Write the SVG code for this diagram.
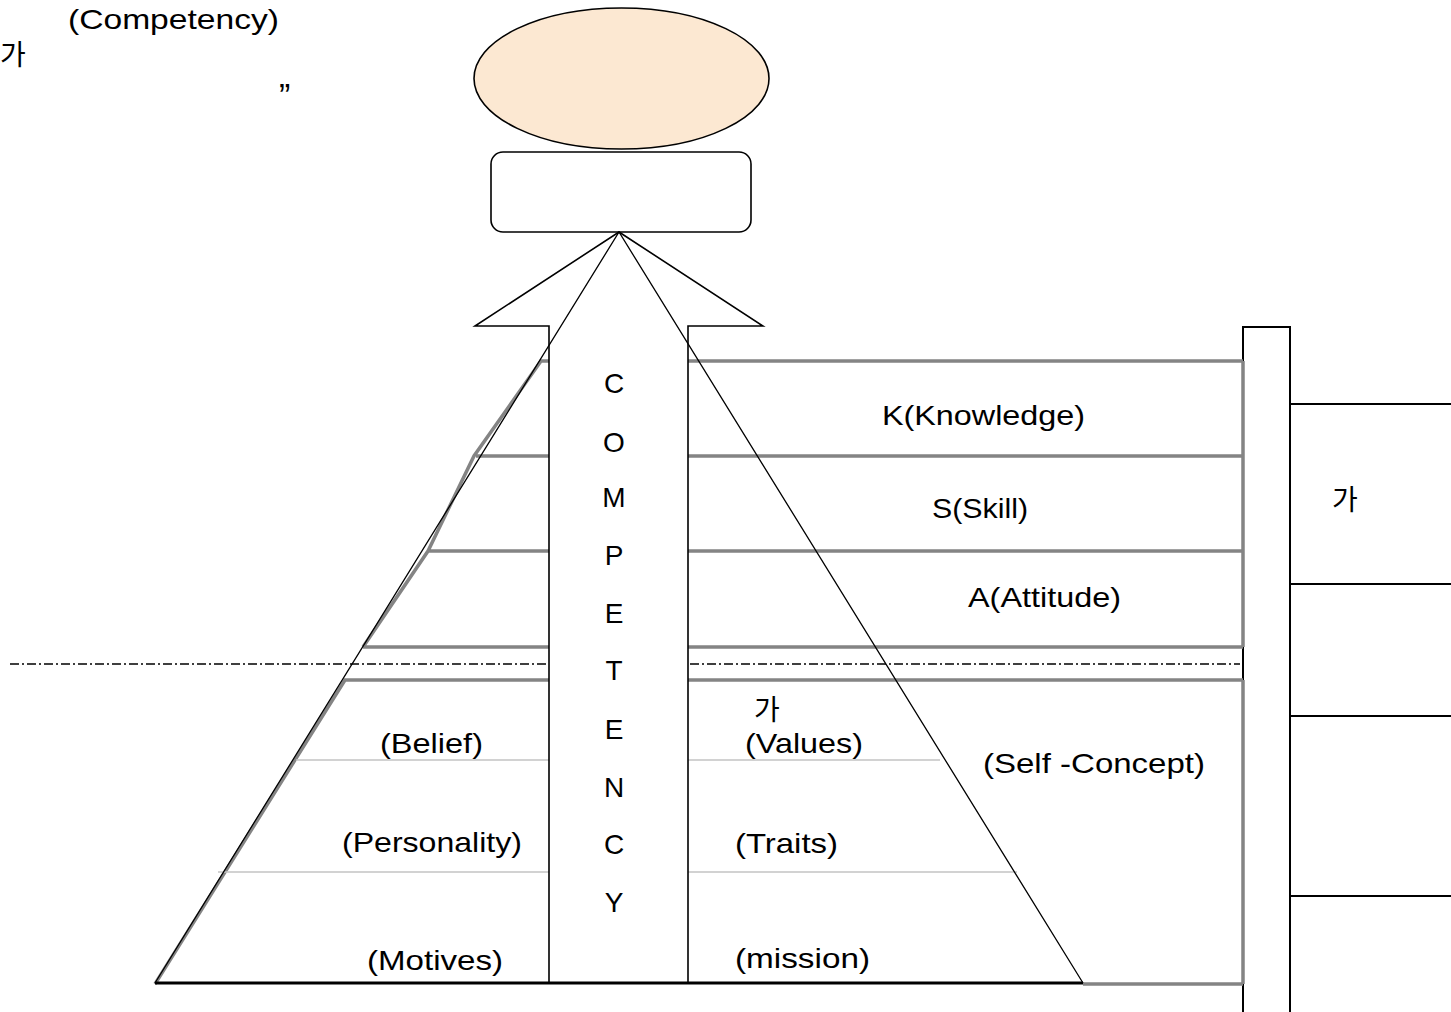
<svg xmlns="http://www.w3.org/2000/svg" width="1451" height="1012" viewBox="0 0 1451 1012">
<style>
text{font-family:"Liberation Sans","Noto Sans CJK KR",Arial,sans-serif;font-size:28px;fill:#000}
.k{font-family:"Noto Sans CJK KR","Liberation Sans",sans-serif;font-size:28px}
.g{stroke:#848484;stroke-width:3.5;fill:none}
.lg{stroke:#c4c4c4;stroke-width:1.6;fill:none}
.b{stroke:#000;fill:none}
</style>
<rect width="1451" height="1012" fill="#fff"/>
<g id="caption">
<text x="68" y="29" textLength="211" lengthAdjust="spacingAndGlyphs">(Competency)</text>
<text class="k" x="0" y="65">가</text>
<text x="279" y="107" style="font-size:34px">”</text>
</g>
<g id="side-bar">
<rect x="1243" y="327" width="47" height="700" fill="#fff" stroke="#000" stroke-width="2"/>
<path class="b" stroke-width="2" d="M1290 404H1451M1290 584H1451M1290 716H1451M1290 896H1451"/>
<text class="k" x="1332" y="510">가</text>
</g>
<g id="layers">
<path class="g" d="M688 361H1243M688 456H1243M688 551H1243M688 647H1243M688 680H1243M1243 361V647M1243 680V984M1083 984H1243"/>
<path class="g" d="M549 361H541L474 456L428 551L363 647M549 456H476M549 551H427M549 647H363M549 680H345L155 984"/>
<path class="lg" d="M296 760H549M688 760H940M218 872H549M688 872H1017"/>
</g>
<g id="waterline">
<path class="b" stroke-width="1.3" stroke-dasharray="9 3 2 3" d="M10 664H549M690 664H1240"/>
</g>
<g id="top-ellipse">
<ellipse cx="621.5" cy="78.5" rx="147.5" ry="70.5" fill="#fce8d2" stroke="#000" stroke-width="1.6"/>
</g>
<g id="top-box">
<rect x="491" y="152" width="260" height="80" rx="12" fill="#fff" stroke="#000" stroke-width="1.6"/>
</g>
<g id="connectors">
<polygon points="619,232 763,326 688,326 688,983 549,983 549,326 475,326" fill="#fff" stroke="#000" stroke-width="1.6"/>
<path class="b" stroke-width="1.3" d="M155 983L619 232L1083 983"/>
<path class="b" stroke-width="2.8" d="M155 983H1083"/>
</g>
<g id="competency">
<text x="614" y="393" text-anchor="middle">C</text>
<text x="614" y="452" text-anchor="middle">O</text>
<text x="614" y="507" text-anchor="middle">M</text>
<text x="614" y="565" text-anchor="middle">P</text>
<text x="614" y="623" text-anchor="middle">E</text>
<text x="614" y="680" text-anchor="middle">T</text>
<text x="614" y="739" text-anchor="middle">E</text>
<text x="614" y="797" text-anchor="middle">N</text>
<text x="614" y="854" text-anchor="middle">C</text>
<text x="614" y="912" text-anchor="middle">Y</text>
</g>
<g id="labels">
<text x="882" y="425" textLength="203" lengthAdjust="spacingAndGlyphs">K(Knowledge)</text>
<text x="932" y="518" textLength="96" lengthAdjust="spacingAndGlyphs">S(Skill)</text>
<text x="968" y="607" textLength="153" lengthAdjust="spacingAndGlyphs">A(Attitude)</text>
<text class="k" x="754" y="720">가</text>
<text x="745" y="753" textLength="118" lengthAdjust="spacingAndGlyphs">(Values)</text>
<text x="380" y="753" textLength="103" lengthAdjust="spacingAndGlyphs">(Belief)</text>
<text x="983" y="773" textLength="222" lengthAdjust="spacingAndGlyphs">(Self -Concept)</text>
<text x="342" y="852" textLength="180" lengthAdjust="spacingAndGlyphs">(Personality)</text>
<text x="735" y="853" textLength="103" lengthAdjust="spacingAndGlyphs">(Traits)</text>
<text x="367" y="970" textLength="136" lengthAdjust="spacingAndGlyphs">(Motives)</text>
<text x="735" y="968" textLength="135" lengthAdjust="spacingAndGlyphs">(mission)</text>
</g>
</svg>
